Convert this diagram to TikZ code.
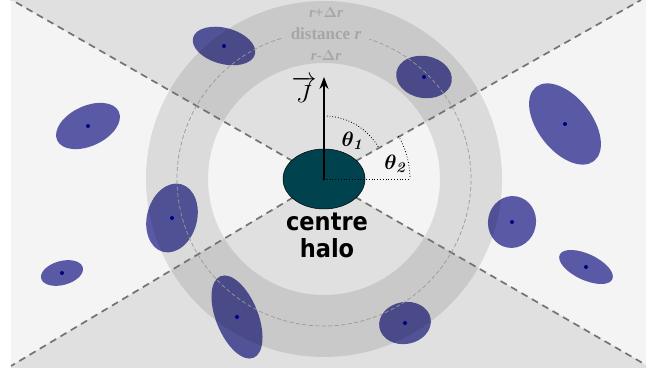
\documentclass[tikz,border=0pt]{standalone}
\usepackage{fontspec}
\usepackage{amsmath,bm}
\usetikzlibrary{shapes.geometric,arrows.meta}
\newfontfamily\halofont{DejaVu Sans}[FakeStretch=0.9]
\newfontfamily\ringfont{Liberation Serif}
\definecolor{bgl}{HTML}{F4F4F4}
\definecolor{wedgecol}{HTML}{E0E0E0}
\definecolor{satcol}{RGB}{94,94,173}
\definecolor{halocol}{HTML}{00434F}
\definecolor{lblcol}{HTML}{A6A6A6}
\definecolor{navydot}{HTML}{000080}
\begin{document}
\begin{tikzpicture}[x=1pt,y=1pt,
  wedgeline/.style={draw=black!55, line width=1.7, dash pattern=on 7pt off 5pt},
  distcircle/.style={draw=black!40, line width=0.7, dash pattern=on 4pt off 2.5pt},
  anglearc/.style={draw=black, line width=0.8, dotted},
  satfill/.style={fill=satcol},
  satdot/.style={fill=navydot},
  ringlbl/.style={text=lblcol, font=\ringfont\bfseries, inner sep=0},
]
\useasboundingbox (0,0) rectangle (660,371);
\coordinate (C) at (324,192);
\coordinate (TLc) at (11,371.5);
\coordinate (TRc) at (641,371);
\coordinate (BLc) at (11,5);
\coordinate (BRc) at (646,6);
% background and wedges
\fill[bgl] (11,3) rectangle (646,371);
\fill[wedgecol] (C) -- (TLc) -- (TRc) -- cycle;
\fill[wedgecol] (C) -- (BLc) -- (11,3) -- (646,3) -- (BRc) -- cycle;
% ring
\fill[black!10, blend mode=multiply, even odd rule] (C) circle[radius=178] (C) circle[radius=116];
% satellites
\begin{scope}[blend mode=multiply]
\fill[satfill, rotate around={-15:(224,325)}] (224,325) ellipse[x radius=32, y radius=18];
\fill[satfill, rotate around={-10:(424,294)}] (424,294) ellipse[x radius=28, y radius=21];
\fill[satfill, rotate around={25:(88,245)}] (88,245) ellipse[x radius=34, y radius=20];
\fill[satfill, rotate around={-52:(565,247)}] (565,247) ellipse[x radius=47, y radius=27];
\fill[satfill, rotate around={75:(172,153)}] (172,153) ellipse[x radius=35, y radius=25];
\fill[satfill, rotate around={-68:(237,54)}] (237,54) ellipse[x radius=44, y radius=21];
\fill[satfill, rotate around={10:(405,48)}] (405,48) ellipse[x radius=26, y radius=21];
\fill[satfill, rotate around={80:(512,149)}] (512,149) ellipse[x radius=26, y radius=24];
\fill[satfill, rotate around={15:(62,98)}] (62,98) ellipse[x radius=21.5, y radius=12];
\fill[satfill, rotate around={-25:(586,104)}] (586,104) ellipse[x radius=29, y radius=13];
\end{scope}
\foreach \p in {(224,325),(424,294),(88,245),(565,247),(172,153),(237,54),(405,48),(512,149),(62,98),(586,104)}
  \fill[satdot] \p circle[radius=2];
% wedge lines
\draw[wedgeline] (C) -- (TLc);
\draw[wedgeline] (C) -- (TRc);
\draw[wedgeline] (C) -- (BLc);
\draw[wedgeline] (C) -- (BRc);
% distance circle
\draw[distcircle] (C) ++(107:147) arc[start angle=107, end angle=432, radius=147];
% ring labels
\node[ringlbl, font=\ringfont\bfseries\fontsize{15}{17}\selectfont] (rplus) at (326,358) {\textit{r}+$\boldsymbol{\Delta}$\textit{r}};
\node[ringlbl, font=\ringfont\bfseries\fontsize{17}{19}\selectfont] (dist) at (326,337) {distance \textit{r}};
\node[ringlbl, font=\ringfont\bfseries\fontsize{15}{17}\selectfont] (rminus) at (326,315) {\textit{r}-$\boldsymbol{\Delta}$\textit{r}};
% halo
\node[ellipse, fill=halocol, draw=black, line width=0.5, minimum width=82, minimum height=60, inner sep=0] (halo) at (C) {};
% angles
\coordinate (Jtip) at (324,294);
\coordinate (hend) at (410,192);
\draw[anglearc] (C) ++(90:63) arc[start angle=90, end angle=30, radius=63];
\draw[anglearc] (C) ++(30:86) arc[start angle=30, end angle=0, radius=86];
\draw[anglearc] (halo.center) -- (hend);
\draw[line width=1.1, -{Stealth[length=12pt, width=9pt]}] (halo.center) -- (Jtip);
\fill (halo.center) circle[radius=1.6];
% labels
\node[inner sep=0, font=\fontsize{24}{28}\selectfont] (J) at (304,282) {$\overrightarrow{J}$};
\node[inner sep=0, font=\fontsize{21}{25}\selectfont] (t1) at (352,230) {$\bm{\theta}_{\textbf{\textit{1}}}$};
\node[inner sep=0, font=\fontsize{21}{25}\selectfont] (t2) at (395,207) {$\bm{\theta}_{\textbf{\textit{2}}}$};
\node[anchor=base, inner sep=0, font=\halofont\bfseries\fontsize{25}{27}\selectfont] (centre) at (327,140) {centre};
\node[anchor=base, inner sep=0, font=\halofont\bfseries\fontsize{25}{27}\selectfont] (halot) at (327,113) {halo};
\end{tikzpicture}
\end{document}
